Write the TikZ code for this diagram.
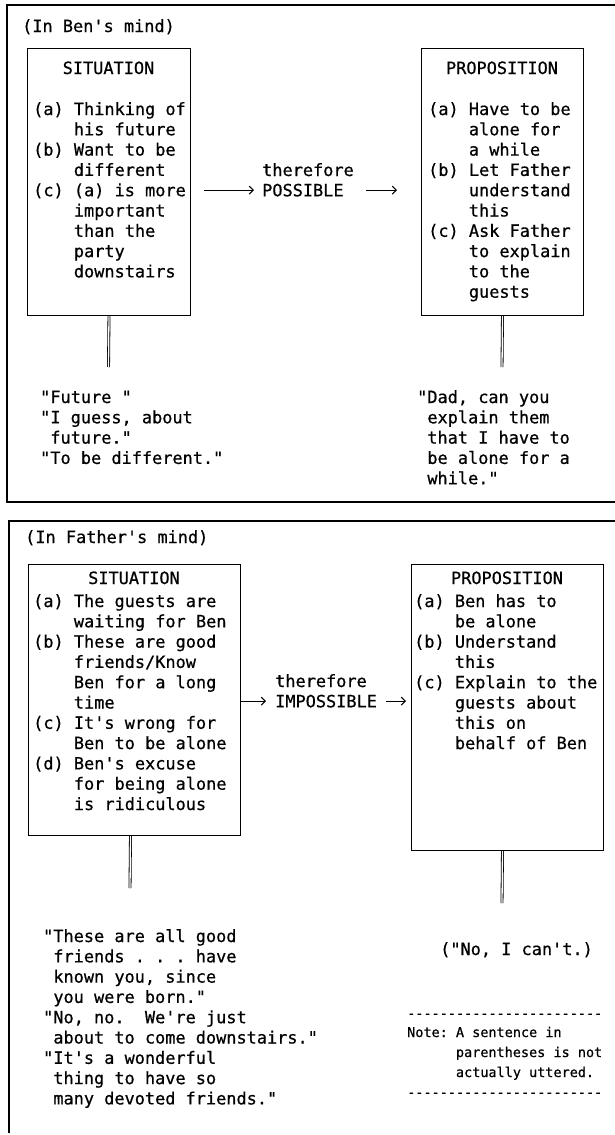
\documentclass[tikz,border=0pt]{standalone}
\usepackage{fontspec}
\setmonofont{DejaVu Sans Mono}[FakeBold=0.6]
\usetikzlibrary{arrows.meta}
% indent by a number of typewriter columns
\newcommand\ind[1]{\hspace*{#1\dimexpr0.60205em\relax}}
\tikzset{
  typed/.style={inner sep=0pt, align=left, font=\ttfamily\fontsize{16.9}{20.3}\selectfont},
  small/.style={inner sep=0pt, align=left, font=\ttfamily\fontsize{13.5}{20}\selectfont},
  frame/.style={line width=1.6pt},
  panel/.style={draw, line width=1pt, rectangle, inner sep=0pt, anchor=north west},
  stem/.style={double, double distance=1.3pt, line width=0.8pt},
  arr/.style={line width=1pt, -{Straight Barb[length=4pt,width=8pt]}},
}
\begin{document}
\begin{tikzpicture}[x=1pt,y=-1pt]
\useasboundingbox (0,0) rectangle (615,1135);
\fill[white] (0,0) rectangle (615,1135);

% multi-line nodes are placed by the baseline of their last line

% ---------------- upper panel: Ben ----------------
\draw[frame] (615,5) -- (7,5) -- (7,502) -- (615,502);
\node[typed, anchor=base west] (lbl1) at (22,32) {(In Ben's mind)};

\node[panel, minimum width=163pt, minimum height=267pt] (sit1) at (27,48) {};
\node[typed, anchor=base] (sit1h) at (108.5,74) {SITUATION};
\node[typed, anchor=base west] (sit1t) at (33,277.4) {(a) Thinking of\\\ind4his future\\(b) Want to be\\\ind4different\\(c) (a) is more\\\ind4important\\\ind4than the\\\ind4party\\\ind4downstairs};

\node[typed, anchor=base west] (ther1) at (262,176) {therefore};
\node[typed, anchor=base west] (poss1) at (262,196.3) {POSSIBLE};

\node[panel, minimum width=162pt, minimum height=267pt] (prop1) at (421,48) {};
\node[typed, anchor=base] (prop1h) at (502,74) {PROPOSITION};
\node[typed, anchor=base west] (prop1t) at (428,297.7) {(a) Have to be\\\ind4alone for\\\ind4a while\\(b) Let Father\\\ind4understand\\\ind4this\\(c) Ask Father\\\ind4to explain\\\ind4to the\\\ind4guests};

\draw[arr, shorten <=13pt, shorten >=8pt] (sit1.east |- poss1.west) -- (poss1.west);
\draw[arr, shorten <=22pt, shorten >=24pt] (poss1.east) -- (prop1.west |- poss1.east);

\coordinate (s1end) at (108.5,367);
\coordinate (p1end) at (502,367);
\draw[stem] (sit1.south) -- (s1end);
\draw[stem] (prop1.south) -- (p1end);

\node[typed, anchor=base west] (q1) at (40,463.9) {"Future "\\"I guess, about\\\ind1future."\\"To be different."};
\node[typed, anchor=base west] (q2) at (417,484.2) {"Dad, can you\\\ind1explain them\\\ind1that I have to\\\ind1be alone for a\\\ind1while."};

% ---------------- lower panel: Father ----------------
\draw[frame] (615,521) -- (9,521) -- (9,1133);
\node[typed, anchor=base west] (lbl2) at (25,543) {(In Father's mind)};

\node[panel, minimum width=212pt, minimum height=271pt] (sit2) at (28,564) {};
\node[typed, anchor=base] (sit2h) at (134,584) {SITUATION};
\node[typed, anchor=base west] (sit2t) at (33,810) {(a) The guests are\\\ind4waiting for Ben\\(b) These are good\\\ind4friends/Know\\\ind4Ben for a long\\\ind4time\\(c) It's wrong for\\\ind4Ben to be alone\\(d) Ben's excuse\\\ind4for being alone\\\ind4is ridiculous};

\node[typed, anchor=base west] (ther2) at (275,687) {therefore};
\node[typed, anchor=base west] (imp2) at (275,707.3) {IMPOSSIBLE};

\node[panel, minimum width=192pt, minimum height=286pt] (prop2) at (411,564) {};
\node[typed, anchor=base] (prop2h) at (507,584) {PROPOSITION};
\node[typed, anchor=base west] (prop2t) at (414,749.1) {(a) Ben has to\\\ind4be alone\\(b) Understand\\\ind4this\\(c) Explain to the\\\ind4guests about\\\ind4this on\\\ind4behalf of Ben};

\draw[arr, shorten >=9pt] (sit2.east |- imp2.west) -- (imp2.west);
\draw[arr, shorten <=9pt, shorten >=5pt] (imp2.east) -- (prop2.west |- imp2.east);

\coordinate (s2end) at (130,888);
\coordinate (p2end) at (502,903);
\draw[stem] ([xshift=-4pt]sit2.south) -- (s2end);
\draw[stem] ([xshift=-5pt]prop2.south) -- (p2end);

\node[typed, anchor=base west] (q3) at (43,1104.4) {"These are all good\\\ind1friends . . . have\\\ind1known you, since\\\ind1you were born."\\"No, no.\ \ We're just\\\ind1about to come downstairs."\\"It's a wonderful\\\ind1thing to have so\\\ind1many devoted friends."};
\node[typed, anchor=base west] (q4) at (440,955) {("No, I can't.)};

\node[small, anchor=base west] (dash1) at (407,1018) {------------------------};
\node[small, anchor=base west] (note) at (407,1077) {Note: A sentence in\\\ind6parentheses is not\\\ind6actually uttered.};
\node[small, anchor=base west] (dash2) at (407,1097) {------------------------};
\end{tikzpicture}
\end{document}
